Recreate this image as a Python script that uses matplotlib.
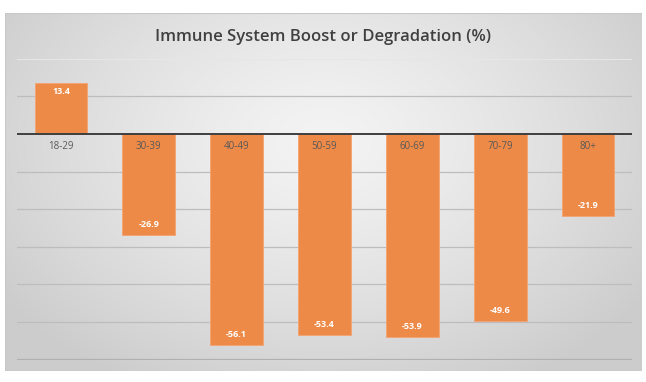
import numpy as np
import matplotlib
matplotlib.use("Agg")
import matplotlib.pyplot as plt
from matplotlib.patches import Rectangle

categories = ["18-29", "30-39", "40-49", "50-59", "60-69", "70-79", "80+"]
values = [13.4, -26.9, -56.1, -53.4, -53.9, -49.6, -21.9]
title = "Immune System Boost or Degradation (%)"

W, H = 646, 382
fig = plt.figure(figsize=(W / 100, H / 100), dpi=100, facecolor="white")

# chart box with radial gradient
bx0, by0, bx1, by1 = 5, 13, 642, 371
bg = fig.add_axes([bx0 / W, 1 - by1 / H, (bx1 - bx0) / W, (by1 - by0) / H])
bg.set_axis_off()
nx, ny = 320, 180
xx, yy = np.meshgrid(np.linspace(0, 1, nx), np.linspace(0, 1, ny))
cx, cy = 0.5, 0.36
r = np.sqrt(((xx - cx) / 0.62) ** 2 + ((yy - cy) / 0.78) ** 2)
r = np.clip(r, 0, 1)
lo, hi = 0.955, 0.80
val = lo + (hi - lo) * r ** 1.3
img = np.dstack([val, val, val])
bg.imshow(img, extent=[0, 1, 0, 1], origin="upper", aspect="auto", interpolation="bilinear")
bg.add_patch(Rectangle((0, 0), 1, 1, transform=bg.transAxes, fill=False,
                       edgecolor="#c8c8c8", lw=0.8))
bg.set_xlim(0, 1)
bg.set_ylim(0, 1)

# plot area
px0, px1, py0, py1 = 17, 632, 58.6, 359.7
ax = fig.add_axes([px0 / W, 1 - py1 / H, (px1 - px0) / W, (py1 - py0) / H])
ax.patch.set_alpha(0)
for s in ax.spines.values():
    s.set_visible(False)
ax.set_xlim(-0.5, len(categories) - 0.5)
ax.set_ylim(-60, 20)
ax.set_xticks([])
ax.set_yticks([])

for gy in range(-60, 21, 10):
    if gy == 0:
        continue
    if gy == 20:
        c, lw = "#e6e6e6", 0.8
    elif gy == -60:
        c, lw = "#b0b0b0", 1.6
    else:
        c, lw = "#bdbdbd", 0.9
    ax.axhline(gy, color=c, lw=lw, zorder=1)

x = np.arange(len(categories))
ax.bar(x, values, width=0.6, color="#ED8A47", edgecolor="#F3A373", lw=0.6, zorder=2)
ax.axhline(0, color="#3f3f3f", lw=1.4, zorder=3)

for xi, lab in zip(x, categories):
    ax.annotate(lab, (xi, 0), xytext=(0, -9), textcoords="offset points",
                ha="center", va="center", fontsize=7, color="#595959",
                family="Open Sans", zorder=4)

for xi, v in zip(x, values):
    off = -6 if v > 0 else 7.5
    ax.annotate(f"{v:.1f}", (xi, v), xytext=(0, off), textcoords="offset points",
                ha="center", va="center", fontsize=6.5, color="white",
                fontweight="bold", family="Open Sans", zorder=4)

fig.text(0.5, 1 - 37 / H, title, ha="center", va="center", fontsize=12,
         color="#404040", fontweight="semibold", family="Open Sans")

fig.savefig("out.png", dpi=100, facecolor="white")
